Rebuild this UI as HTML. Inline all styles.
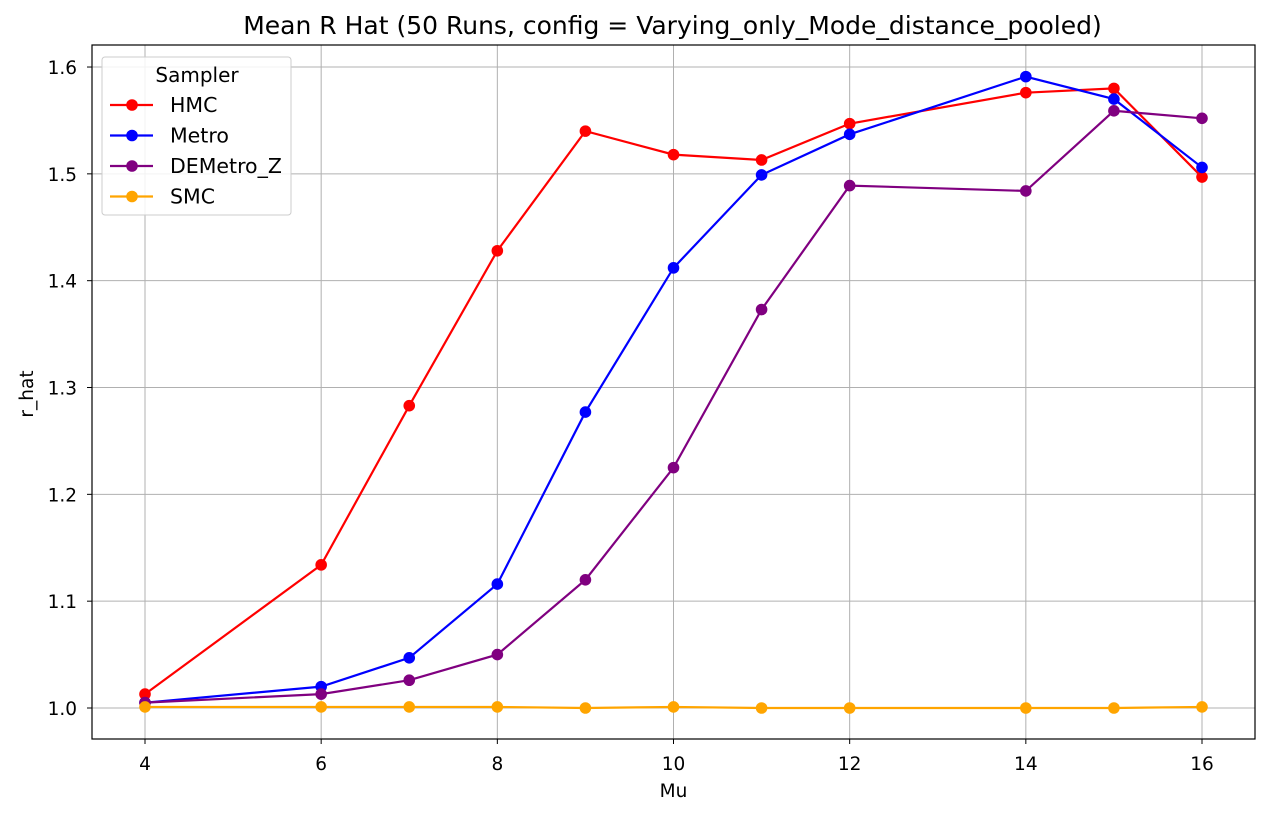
<!DOCTYPE html>
<html><head><meta charset="utf-8"><style>
body{margin:0;background:#fff;font-family:"Liberation Sans","DejaVu Sans",sans-serif;}
svg text{font-family:"DejaVu Sans","Liberation Sans",sans-serif;}
</style></head><body>
<svg id="c" width="1269" height="817" xmlns="http://www.w3.org/2000/svg"></svg>
<script>
const categories=[4,6,7,8,9,10,11,12,14,15,16];
const hmc=[1.013,1.134,1.283,1.428,1.540,1.518,1.513,1.547,1.576,1.580,1.497];
const metro=[1.005,1.020,1.047,1.116,1.277,1.412,1.499,1.537,1.591,1.570,1.506];
const demetro=[1.005,1.013,1.026,1.050,1.120,1.225,1.373,1.489,1.484,1.559,1.552];
const smc=[1.001,1.001,1.001,1.001,1.000,1.001,1.000,1.000,1.000,1.000,1.001];
const xTicks=[4,6,8,10,12,14,16];
const yTicks=[1.0,1.1,1.2,1.3,1.4,1.5,1.6];
const seriesNames=["HMC","Metro","DEMetro_Z","SMC"];
const colors=["red","blue","purple","orange"];
const NS="http://www.w3.org/2000/svg";
const svg=document.getElementById('c');
const L=92,R=1255,T=45,B=739;
const xs=v=>145+(v-4)*(1202-145)/12;
const ys=v=>708-(v-1)*1068.3;
function el(tag,a,p){const e=document.createElementNS(NS,tag);for(const k in a)e.setAttribute(k,a[k]);(p||svg).appendChild(e);return e;}
const grid=el('g',{});


xTicks.forEach(t=>{
 el('line',{x1:xs(t),x2:xs(t),y1:T,y2:B,stroke:'#b0b0b0','stroke-width':1},grid);
 el('line',{x1:xs(t),x2:xs(t),y1:B,y2:B+5,stroke:'#000','stroke-width':1});
 const tx=el('text',{x:xs(t),y:770,'text-anchor':'middle','font-size':18.5});tx.textContent=t;
 
 
});
yTicks.forEach(t=>{
 el('line',{x1:L,x2:R,y1:ys(t),y2:ys(t),stroke:'#b0b0b0','stroke-width':1},grid);
 el('line',{x1:L-5,x2:L,y1:ys(t),y2:ys(t),stroke:'#000','stroke-width':1});
 const tx=el('text',{x:L-15,y:ys(t)+7,'text-anchor':'end','font-size':18.5});tx.textContent=t.toFixed(1);
 
 
});
[hmc,metro,demetro,smc].forEach((s,i)=>{
 const g=el('g',{});
 
 
 el('polyline',{points:s.map((v,j)=>xs(categories[j])+','+ys(v)).join(' '),fill:'none',stroke:colors[i],'stroke-width':2.2},g);
 s.forEach((v,j)=>{const c=el('circle',{cx:xs(categories[j]),cy:ys(v),r:5.8,fill:colors[i]},g);
  
  });
});
el('rect',{x:L,y:T,width:R-L,height:B-T,fill:'none',stroke:'#000','stroke-width':1.2});
let t=el('text',{x:(L+R)/2-1,y:34,'text-anchor':'middle','font-size':25});t.textContent='Mean R Hat (50 Runs, config = Varying_only_Mode_distance_pooled)';

t=el('text',{x:(L+R)/2,y:797,'text-anchor':'middle','font-size':18.5});t.textContent='Mu';

t=el('text',{x:33,y:394,'text-anchor':'middle','font-size':18.5,transform:'rotate(-90 33 394)'});t.textContent='r_hat';

const lg=el('g',{});


el('rect',{x:102,y:57,width:189,height:158,rx:3,fill:'#fff','fill-opacity':0.85,stroke:'#ccc'},lg);
t=el('text',{x:197,y:82,'text-anchor':'middle','font-size':20},lg);t.textContent='Sampler';
seriesNames.forEach((n,i)=>{
 const y=105+i*30.5;
 el('line',{x1:110,x2:153,y1:y,y2:y,stroke:colors[i],'stroke-width':2.2},lg);
 el('circle',{cx:132,cy:y,r:5.8,fill:colors[i]},lg);
 const tx=el('text',{x:170,y:y+7,'font-size':20.5},lg);tx.textContent=n;
 
 
});
</script>
</body></html>
